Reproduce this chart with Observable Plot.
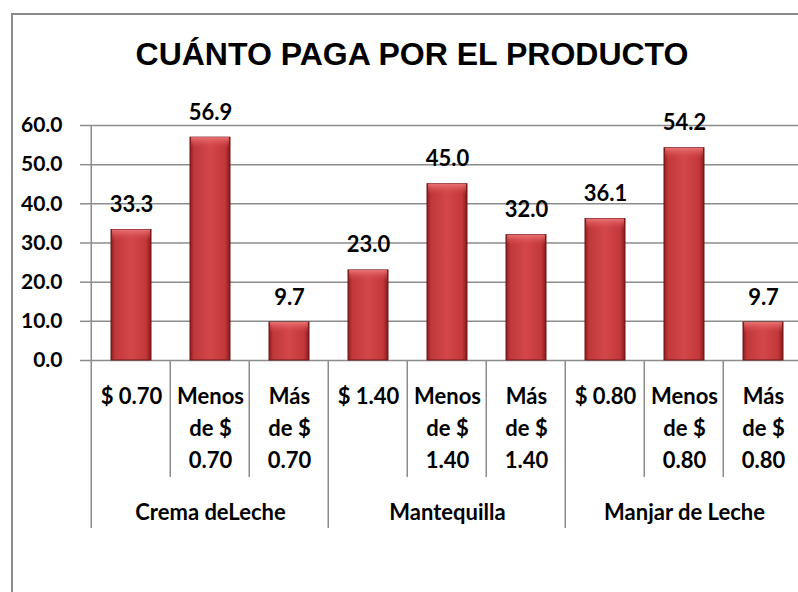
<!DOCTYPE html>
<html><head><meta charset="utf-8">
<script src="https://cdn.jsdelivr.net/npm/d3@7"></script>
<script src="https://cdn.jsdelivr.net/npm/@observablehq/plot@0.6"></script>
<style>
html,body{margin:0;padding:0;background:#fff;}
body{width:798px;height:592px;overflow:hidden;position:relative;font-family:Lato,sans-serif;}
#frame{position:absolute;left:11px;top:13px;width:840px;height:640px;border:2px solid #8c8c8c;box-sizing:border-box;}
#title{position:absolute;left:0;width:824px;top:38px;line-height:32px;text-align:center;font-family:"Liberation Sans",Arial,sans-serif;font-weight:bold;font-size:32px;color:#000;margin:0;}
#chart{position:absolute;left:0;top:0;}
#chart svg{max-width:none;}
</style>
</head><body>
<div id="frame"></div>
<h1 id="title">CUÁNTO PAGA POR EL PRODUCTO</h1>
<div id="chart"></div>
<script>
// ---- data ----
const groups = ["Crema deLeche","Crema deLeche","Crema deLeche","Mantequilla","Mantequilla","Mantequilla","Manjar de Leche","Manjar de Leche","Manjar de Leche"];
const options = ["$ 0.70","Menos de $ 0.70","Más de $ 0.70","$ 1.40","Menos de $ 1.40","Más de $ 1.40","$ 0.80","Menos de $ 0.80","Más de $ 0.80"];
const tickLabels = ["$ 0.70","Menos\nde $\n0.70","Más\nde $\n0.70","$ 1.40","Menos\nde $\n1.40","Más\nde $\n1.40","$ 0.80","Menos\nde $\n0.80","Más\nde $\n0.80"];
const values = [33.3,56.9,9.7,23.0,45.0,32.0,36.1,54.2,9.7];
const yTicks = [0,10,20,30,40,50,60];
const groupNames = ["Crema deLeche","Mantequilla","Manjar de Leche"];

const keys = groups.map((g,i)=>g+"|"+options[i]);
const labelOf = new Map(keys.map((k,i)=>[k,tickLabels[i]]));
const data = values.map((v,i)=>({key:keys[i], group:groups[i], value:v}));
const groupMid = groupNames.map(g=>{const ks=keys.filter((k,i)=>groups[i]===g); return {name:g, key:ks[Math.floor(ks.length/2)]};});

const FONT = "Lato, 'Open Sans', sans-serif";

// separators & axis line, drawn from the scales
function separators(index, scales, values, dims) {
  const x = scales.x, y = scales.y;
  const step = x(keys[1]) - x(keys[0]);
  const y0 = y(0), yTop = y(d3.max(yTicks));
  const g = d3.create("svg:g").attr("stroke","#8c8c8c").attr("stroke-width",1.5);
  g.append("line").attr("x1",x(keys[0])-step*0.25).attr("x2",x(keys[0])-step*0.25).attr("y1",yTop).attr("y2",y0);
  keys.forEach((k,i)=>{
    const xl = x(k) - step*0.25;
    const isGroupStart = i===0 || groups[i]!==groups[i-1];
    g.append("line").attr("x1",xl).attr("x2",xl).attr("y1",y0).attr("y2",y0 + (isGroupStart ? 168 : 117));
  });
  const xe = x(keys[keys.length-1]) + step*0.75;
  g.append("line").attr("x1",xe).attr("x2",xe).attr("y1",y0).attr("y2",y0+168);
  return g.node();
}

const plot = Plot.plot({
  width: 798, height: 592,
  marginLeft: 88, marginRight: -7, marginTop: 125, marginBottom: 232,
  style: {background:"transparent", fontFamily: FONT, overflow:"visible"},
  x: {domain: keys, paddingInner: 0.5, paddingOuter: 0.25, label: null},
  y: {domain: [0,60], label: null},
  marks: [
    Plot.gridY(yTicks, {stroke:"#8c8c8c", strokeOpacity:1, strokeWidth:1.5}),
    Plot.axisY(yTicks, {tickSize:8, tickPadding:18, tickFormat:d=>d.toFixed(1), fontSize:21, fontWeight:"bold", stroke:"#8c8c8c", strokeWidth:1.5, fill:"#000", label:null}),
    separators,
    Plot.axisX({tickSize:0, tickPadding:21, tickFormat:k=>labelOf.get(k), fontSize:22, fontWeight:"bold", lineHeight:1.45, fill:"#000", label:null}),
    Plot.text(groupMid, {x:"key", text:"name", frameAnchor:"bottom", lineAnchor:"bottom", dy:159, fontSize:22, fontWeight:"bold", fill:"#000"}),
    Plot.barY(data, {x:"key", y:"value", fill:"url(#barGrad)", stroke:"#6e1416", strokeWidth:1}),
    Plot.barY(data, {x:"key", y1:"value", y2:"value", insetBottom:-11, insetLeft:1, insetRight:1, fill:"url(#topGrad)"}),
    Plot.text(data, {x:"key", y:"value", text:d=>d.value.toFixed(1), lineAnchor:"bottom", dy:-18, fontSize:22, fontWeight:"bold", fill:"#000"})
  ]
});

const defs = d3.select(plot).insert("defs", ":first-child");
const lg = defs.append("linearGradient").attr("id","barGrad").attr("x1",0).attr("x2",1).attr("y1",0).attr("y2",0);
[[0,"#8e1d1f"],[0.1,"#c0383a"],[0.5,"#d34749"],[0.88,"#c23739"],[1,"#861a1c"]].forEach(([o,c])=>lg.append("stop").attr("offset",o).attr("stop-color",c));
const tg = defs.append("linearGradient").attr("id","topGrad").attr("x1",0).attr("x2",0).attr("y1",0).attr("y2",1);
[[0,"#f07a7c",0.9],[1,"#d34749",0]].forEach(([o,c,a])=>tg.append("stop").attr("offset",o).attr("stop-color",c).attr("stop-opacity",a));

document.getElementById("chart").appendChild(plot);
</script>
</body></html>
